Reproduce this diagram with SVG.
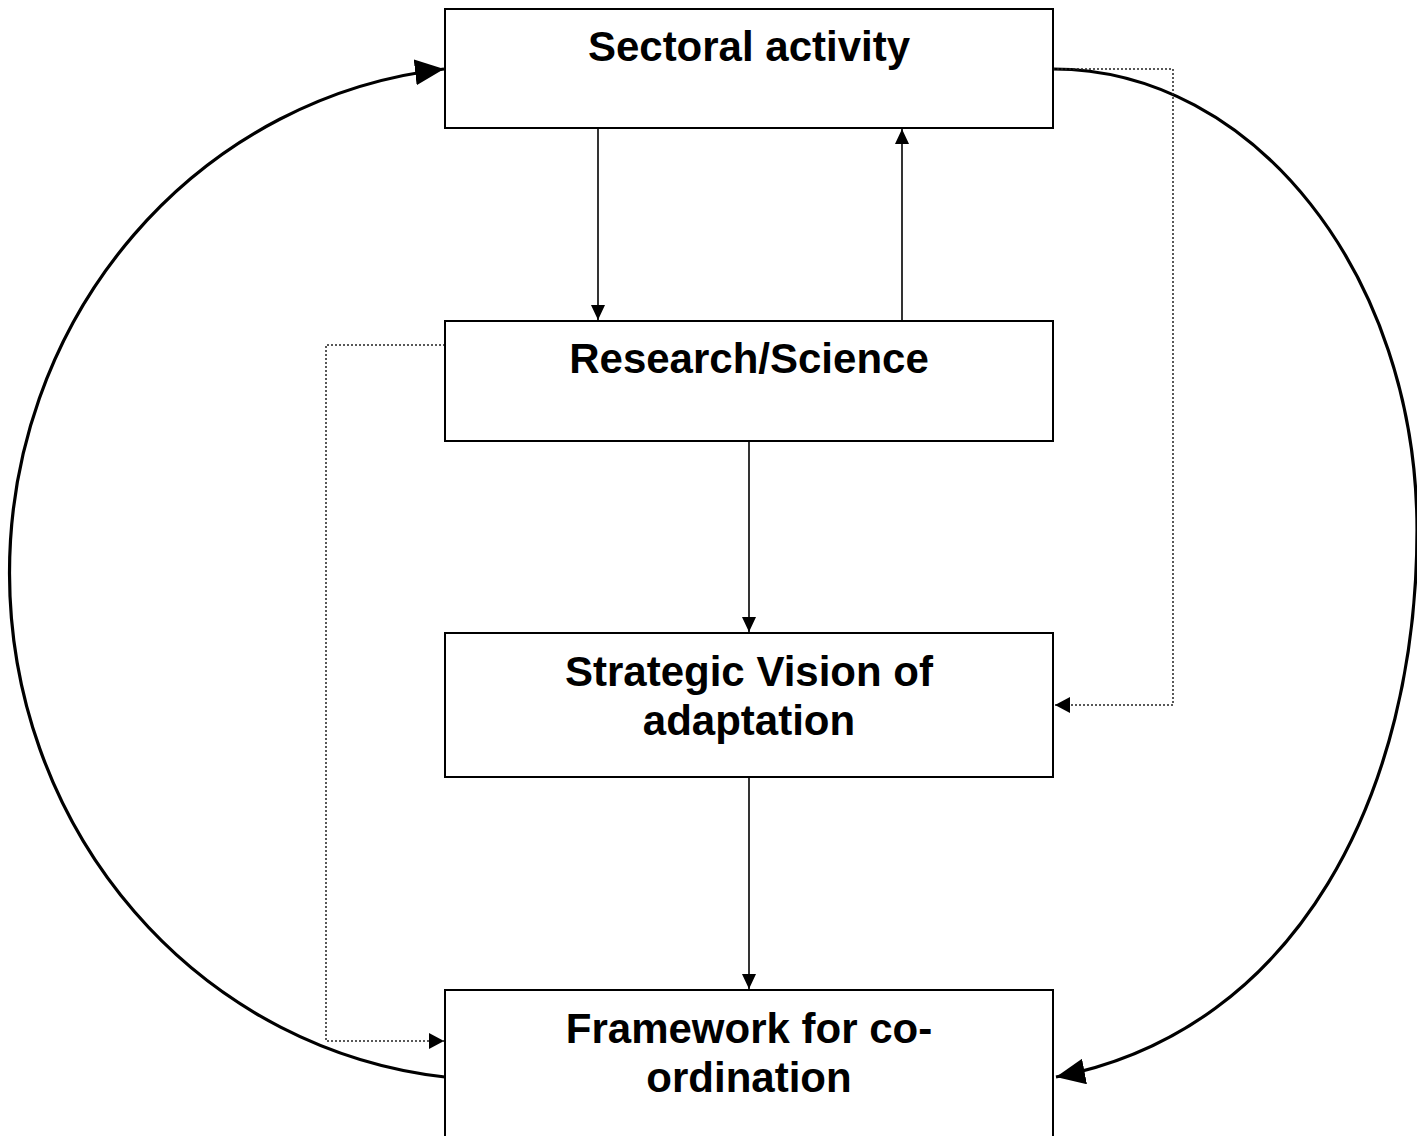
<svg xmlns="http://www.w3.org/2000/svg" width="1417" height="1136" viewBox="0 0 1417 1136">
<style>
.box{fill:#fff;stroke:#000;stroke-width:2}
.lbl{font-family:"Liberation Sans",Arial,sans-serif;font-weight:bold;font-size:42px;text-anchor:middle;fill:#000}
.arc{fill:none;stroke:#000;stroke-width:3.2}
.thin{fill:none;stroke:#000;stroke-width:1.6}
.dot{fill:none;stroke:#222;stroke-width:1.5;stroke-dasharray:2 2}
</style>
<defs>
<marker id="big" markerUnits="userSpaceOnUse" markerWidth="32" markerHeight="26" refX="29" refY="13" orient="auto">
<path d="M0,0 L29,13 L0,26 Z" fill="#000"/>
</marker>
<marker id="small" markerUnits="userSpaceOnUse" markerWidth="16" markerHeight="14" refX="15" refY="7" orient="auto">
<path d="M0,0 L15,7 L0,14 Z" fill="#000"/>
</marker>
<marker id="dotm" markerUnits="userSpaceOnUse" markerWidth="16" markerHeight="16" refX="15" refY="8" orient="auto">
<path d="M0,0 L15,8 L0,16 Z" fill="#000"/>
</marker>
</defs>
<g id="connectors">
<path class="arc" d="M445,1077 A488,507 0 0 1 444,69" marker-end="url(#big)"/>
<path class="arc" d="M1053,69 C1254,69 1417,275 1417,530 C1417,790 1300,1030 1056,1077" marker-end="url(#big)"/>
<path class="thin" d="M598,128 L598,320" marker-end="url(#small)"/>
<path class="thin" d="M902,321 L902,129" marker-end="url(#small)"/>
<path class="thin" d="M749,441 L749,632" marker-end="url(#small)"/>
<path class="thin" d="M749,777 L749,989" marker-end="url(#small)"/>
<path class="dot" d="M1053,69 L1173,69 L1173,705 L1055,705" marker-end="url(#dotm)"/>
<path class="dot" d="M445,345 L326,345 L326,1041 L444,1041" marker-end="url(#dotm)"/>
</g>
<g id="node-sectoral">
<rect class="box" x="445" y="9" width="608" height="119"/>
<text class="lbl" x="749" y="61">Sectoral activity</text>
</g>
<g id="node-research">
<rect class="box" x="445" y="321" width="608" height="120"/>
<text class="lbl" x="749" y="373">Research/Science</text>
</g>
<g id="node-strategic">
<rect class="box" x="445" y="633" width="608" height="144"/>
<text class="lbl" x="749" y="686">Strategic Vision of</text>
<text class="lbl" x="749" y="735">adaptation</text>
</g>
<g id="node-framework">
<rect class="box" x="445" y="990" width="608" height="150"/>
<text class="lbl" x="749" y="1043">Framework for co-</text>
<text class="lbl" x="749" y="1092">ordination</text>
</g>
</svg>
